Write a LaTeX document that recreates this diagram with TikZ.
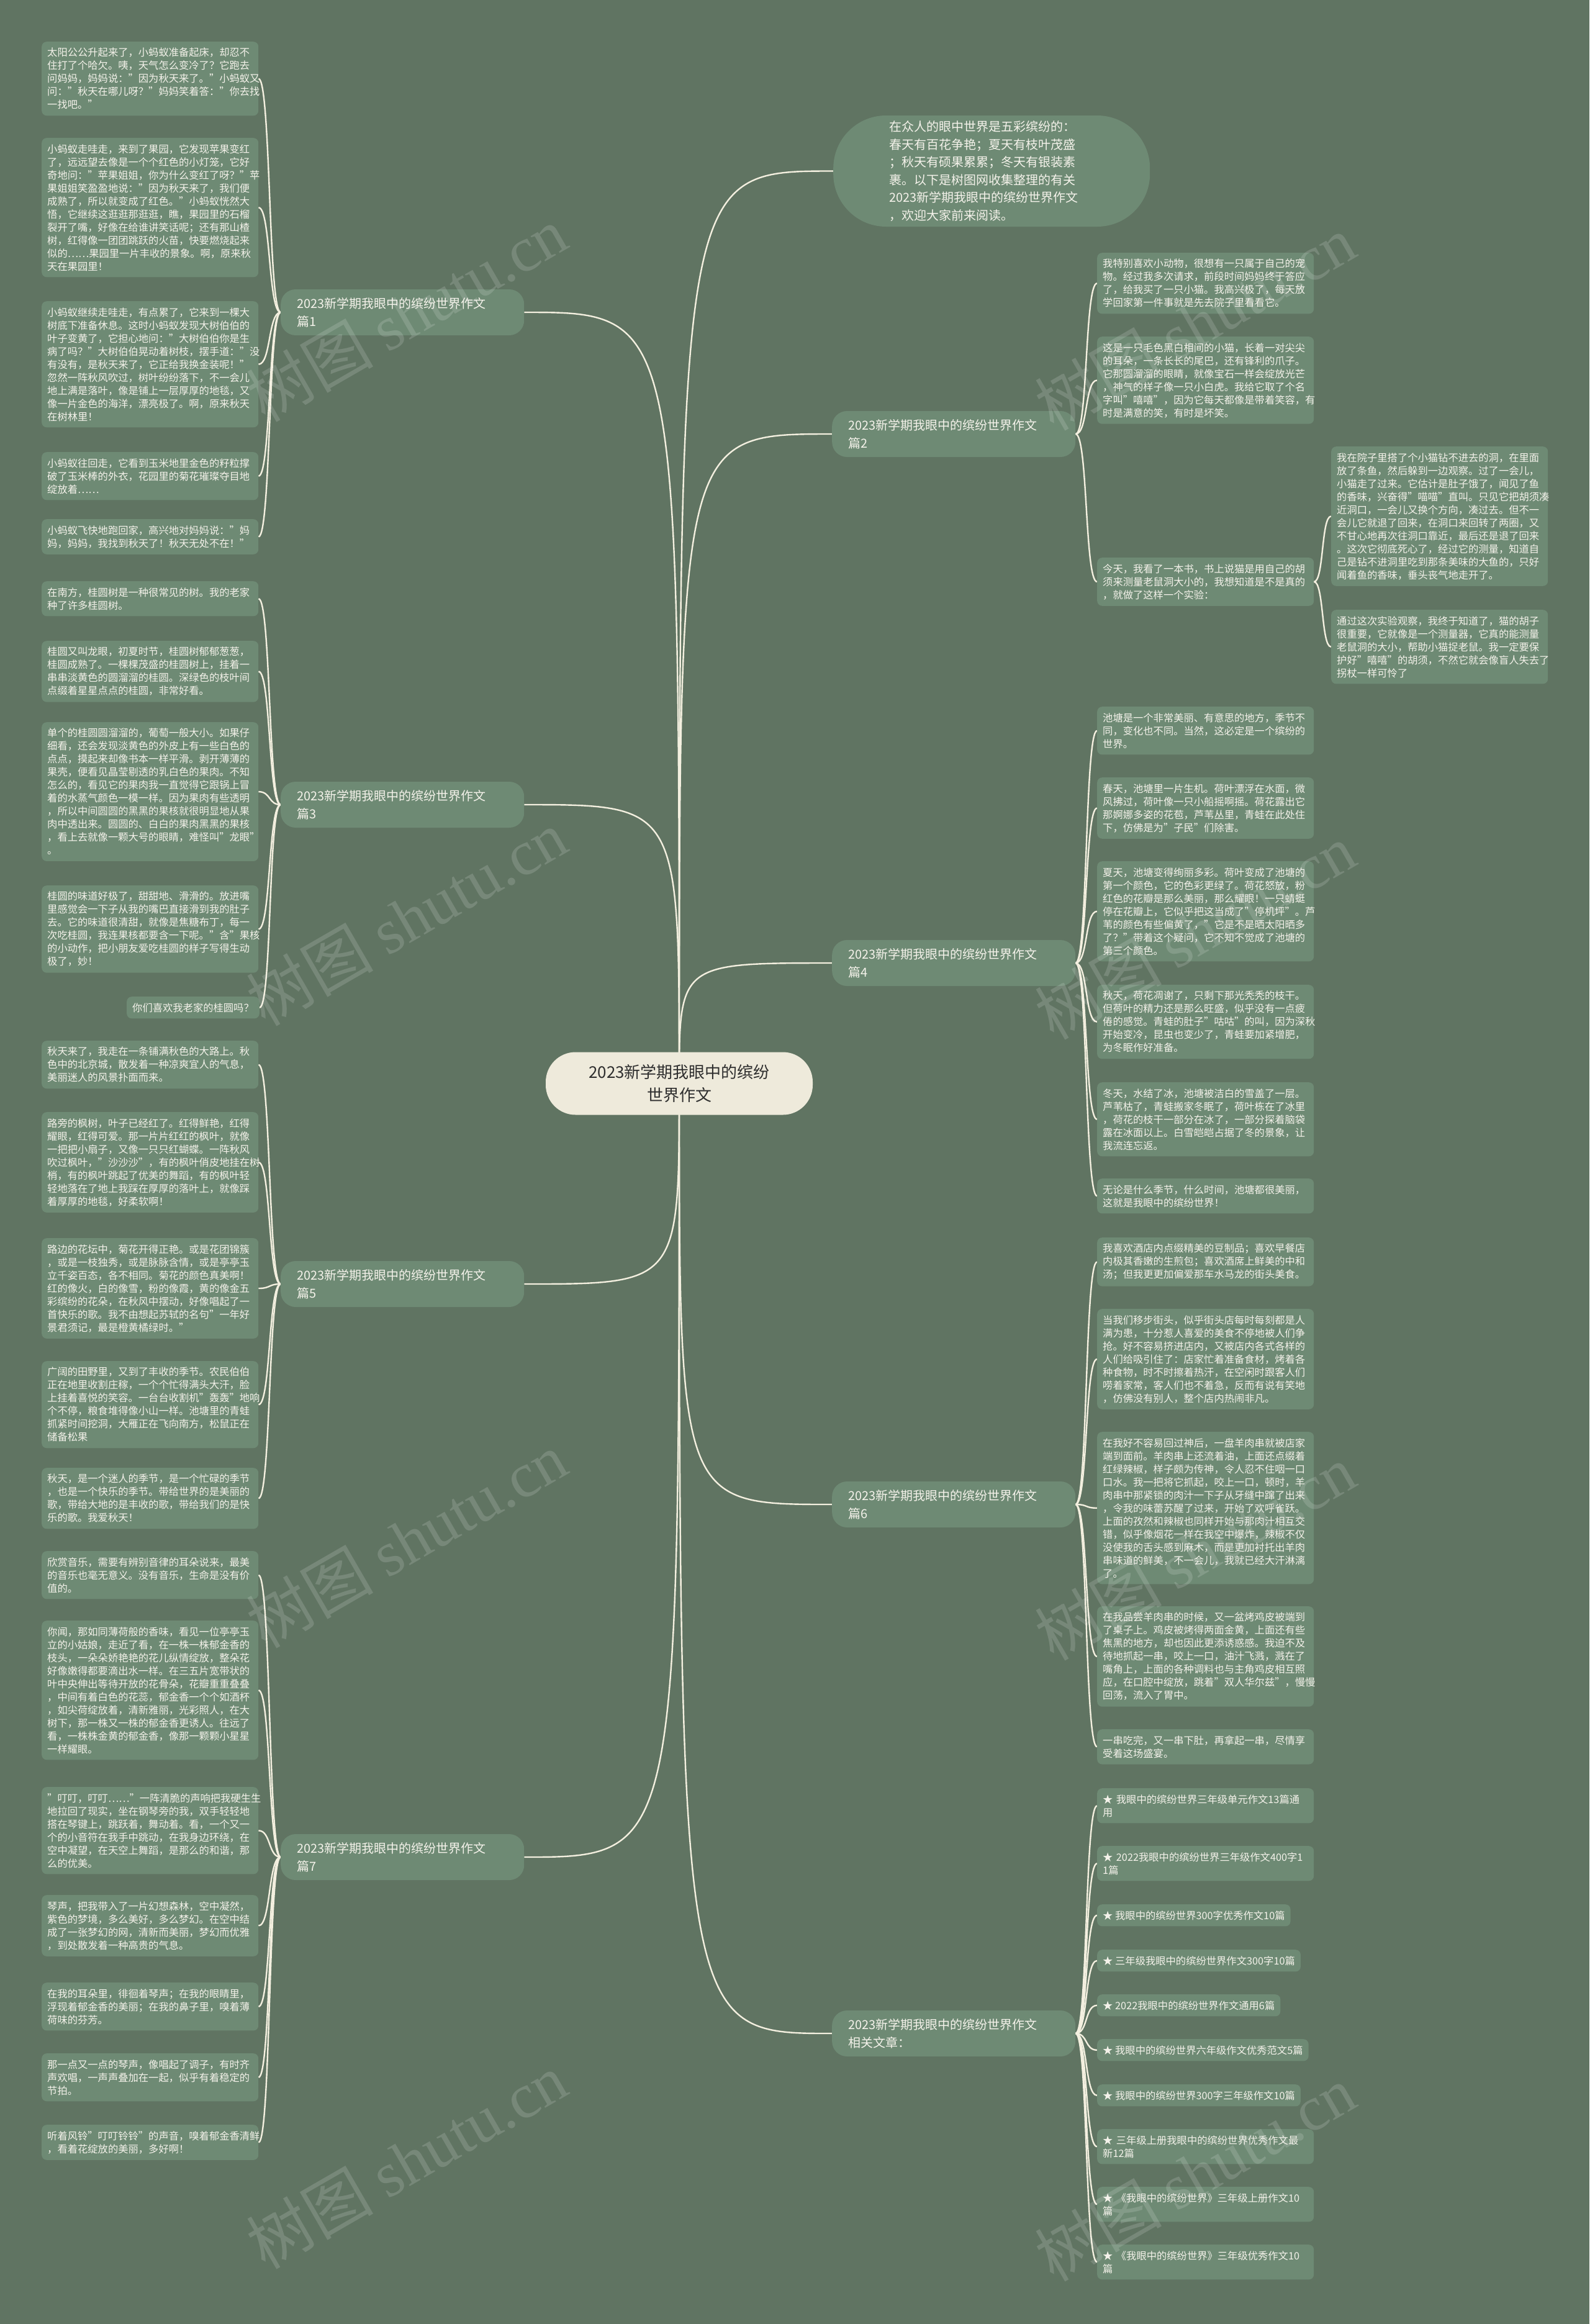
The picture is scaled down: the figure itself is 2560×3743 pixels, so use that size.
\documentclass[tikz,border=0pt]{standalone}
\usepackage{fontspec}
\setmainfont{Noto Sans CJK SC}
\newfontfamily\wmlatin{Liberation Serif}
\definecolor{bgc}{HTML}{607462}
\definecolor{nodefill}{HTML}{6E8A74}
\definecolor{linec}{HTML}{F3EFDF}
\definecolor{txt}{HTML}{F4F2EA}
\definecolor{rootfill}{HTML}{EEEADB}
\definecolor{roottxt}{HTML}{2E2E2E}
\pgfdeclarelayer{bglayer}
\pgfdeclarelayer{linelayer}
\pgfdeclarelayer{wmlayer}
\pgfsetlayers{bglayer,linelayer,main,wmlayer}
\begin{document}
\begin{tikzpicture}[x=1pt,y=-1pt,
  leaf/.style={fill=nodefill, text=txt, rounded corners=8pt, inner xsep=9pt, inner ysep=10pt, font=\fontsize{16.3}{21}\selectfont, align=left},
  wleaf/.style={leaf, text width=331pt},
  branchbox/.style={fill=nodefill, text=txt, rounded corners=24pt, inner xsep=26pt, inner ysep=8pt, text width=340pt, minimum height=74pt, align=left, font=\fontsize{20}{29}\selectfont},
  rootbox/.style={fill=rootfill, text=roottxt, rounded corners=48pt, minimum width=430pt, minimum height=101pt, inner sep=0pt, align=center, font=\fontsize{26}{37}\selectfont},
  introbox/.style={fill=nodefill, text=txt, rounded corners=85pt, text width=330pt, inner xsep=90pt, inner ysep=0pt, minimum height=179pt, align=left, font=\fontsize{20}{28.5}\selectfont},
  link/.style={draw=linec, line width=2.4pt},
  wmark/.style={rotate=30, text=white, text opacity=0.15, font=\fontsize{102}{102}\selectfont}
]
\useasboundingbox (0,0) rectangle (2560,3743);
\begin{pgfonlayer}{bglayer}
\fill[bgc] (0,0) rectangle (2560,3743);
\end{pgfonlayer}

% root and intro
\node[rootbox] (root) at (1094,1745) {2023新学期我眼中的缤纷\\世界作文};
\node[introbox, anchor=west] (intro) at (1342,275.5) {在众人的眼中世界是五彩缤纷的：\\春天有百花争艳；夏天有枝叶茂盛\\；秋天有硕果累累；冬天有银装素\\裹。以下是树图网收集整理的有关\\2023新学期我眼中的缤纷世界作文\\，欢迎大家前来阅读。};

% branches
\node[branchbox, anchor=west] (b1) at (452,503) {2023新学期我眼中的缤纷世界作文\\篇1};
\node[branchbox, anchor=west] (b3) at (452,1296) {2023新学期我眼中的缤纷世界作文\\篇3};
\node[branchbox, anchor=west] (b5) at (452,2068) {2023新学期我眼中的缤纷世界作文\\篇5};
\node[branchbox, anchor=west] (b7) at (452,2991) {2023新学期我眼中的缤纷世界作文\\篇7};
\node[branchbox, anchor=west] (b2) at (1340,699) {2023新学期我眼中的缤纷世界作文\\篇2};
\node[branchbox, anchor=west] (b4) at (1340,1551) {2023新学期我眼中的缤纷世界作文\\篇4};
\node[branchbox, anchor=west] (b6) at (1340,2423) {2023新学期我眼中的缤纷世界作文\\篇6};
\node[branchbox, anchor=west] (b8) at (1340,3275) {2023新学期我眼中的缤纷世界作文\\相关文章：};

% group 1
\node[wleaf, anchor=north west] (l1a) at (67,67) {太阳公公升起来了，小蚂蚁准备起床，却忍不\\住打了个哈欠。咦，天气怎么变冷了？它跑去\\问妈妈，妈妈说："因为秋天来了。"小蚂蚁又\\问："秋天在哪儿呀？"妈妈笑着答："你去找\\一找吧。"};
\node[wleaf, anchor=north west] (l1b) at (67,222) {小蚂蚁走哇走，来到了果园，它发现苹果变红\\了，远远望去像是一个个红色的小灯笼，它好\\奇地问："苹果姐姐，你为什么变红了呀？"苹\\果姐姐笑盈盈地说："因为秋天来了，我们便\\成熟了，所以就变成了红色。"小蚂蚁恍然大\\悟，它继续这逛逛那逛逛，瞧，果园里的石榴\\裂开了嘴，好像在给谁讲笑话呢；还有那山楂\\树，红得像一团团跳跃的火苗，快要燃烧起来\\似的……果园里一片丰收的景象。啊，原来秋\\天在果园里！};
\node[wleaf, anchor=north west] (l1c) at (67,485) {小蚂蚁继续走哇走，有点累了，它来到一棵大\\树底下准备休息。这时小蚂蚁发现大树伯伯的\\叶子变黄了，它担心地问："大树伯伯你是生\\病了吗？"大树伯伯晃动着树枝，摆手道："没\\有没有，是秋天来了，它正给我换金装呢！"\\忽然一阵秋风吹过，树叶纷纷落下，不一会儿\\地上满是落叶，像是铺上一层厚厚的地毯，又\\像一片金色的海洋，漂亮极了。啊，原来秋天\\在树林里！};
\node[wleaf, anchor=north west] (l1d) at (67,728) {小蚂蚁往回走，它看到玉米地里金色的籽粒撑\\破了玉米棒的外衣，花园里的菊花璀璨夺目地\\绽放着……};
\node[wleaf, anchor=north west] (l1e) at (67,836) {小蚂蚁飞快地跑回家，高兴地对妈妈说："妈\\妈，妈妈，我找到秋天了！秋天无处不在！"};

% group 3
\node[wleaf, anchor=north west] (l3a) at (67,936) {在南方，桂圆树是一种很常见的树。我的老家\\种了许多桂圆树。};
\node[wleaf, anchor=north west] (l3b) at (67,1032) {桂圆又叫龙眼，初夏时节，桂圆树郁郁葱葱，\\桂圆成熟了。一棵棵茂盛的桂圆树上，挂着一\\串串淡黄色的圆溜溜的桂圆。深绿色的枝叶间\\点缀着星星点点的桂圆，非常好看。};
\node[wleaf, anchor=north west] (l3c) at (67,1163) {单个的桂圆圆溜溜的，葡萄一般大小。如果仔\\细看，还会发现淡黄色的外皮上有一些白色的\\点点，摸起来却像书本一样平滑。剥开薄薄的\\果壳，便看见晶莹剔透的乳白色的果肉。不知\\怎么的，看见它的果肉我一直觉得它跟锅上冒\\着的水蒸气颜色一模一样。因为果肉有些透明\\，所以中间圆圆的黑黑的果核就很明显地从果\\肉中透出来。圆圆的、白白的果肉黑黑的果核\\，看上去就像一颗大号的眼睛，难怪叫"龙眼"\\。};
\node[wleaf, anchor=north west] (l3d) at (67,1426) {桂圆的味道好极了，甜甜地、滑滑的。放进嘴\\里感觉会一下子从我的嘴巴直接滑到我的肚子\\去。它的味道很清甜，就像是焦糖布丁，每一\\次吃桂圆，我连果核都要含一下呢。"含"果核\\的小动作，把小朋友爱吃桂圆的样子写得生动\\极了，妙！};
\node[leaf, anchor=north east] (l3e) at (418,1605) {你们喜欢我老家的桂圆吗？};

% group 5
\node[wleaf, anchor=north west] (l5a) at (67,1676) {秋天来了，我走在一条铺满秋色的大路上。秋\\色中的北京城，散发着一种凉爽宜人的气息，\\美丽迷人的风景扑面而来。};
\node[wleaf, anchor=north west] (l5b) at (67,1791) {路旁的枫树，叶子已经红了。红得鲜艳，红得\\耀眼，红得可爱。那一片片红红的枫叶，就像\\一把把小扇子，又像一只只红蝴蝶。一阵秋风\\吹过枫叶，"沙沙沙"，有的枫叶俏皮地挂在树\\梢，有的枫叶跳起了优美的舞蹈，有的枫叶轻\\轻地落在了地上我踩在厚厚的落叶上，就像踩\\着厚厚的地毯，好柔软啊！};
\node[wleaf, anchor=north west] (l5c) at (67,1994) {路边的花坛中，菊花开得正艳。或是花团锦簇\\，或是一枝独秀，或是脉脉含情，或是亭亭玉\\立千姿百态，各不相同。菊花的颜色真美啊！\\红的像火，白的像雪，粉的像霞，黄的像金五\\彩缤纷的花朵，在秋风中摆动，好像唱起了一\\首快乐的歌。我不由想起苏轼的名句"一年好\\景君须记，最是橙黄橘绿时。"};
\node[wleaf, anchor=north west] (l5d) at (67,2192) {广阔的田野里，又到了丰收的季节。农民伯伯\\正在地里收割庄稼，一个个忙得满头大汗，脸\\上挂着喜悦的笑容。一台台收割机"轰轰"地响\\个不停，粮食堆得像小山一样。池塘里的青蛙\\抓紧时间挖洞，大雁正在飞向南方，松鼠正在\\储备松果};
\node[wleaf, anchor=north west] (l5e) at (67,2364) {秋天，是一个迷人的季节，是一个忙碌的季节\\，也是一个快乐的季节。带给世界的是美丽的\\歌，带给大地的是丰收的歌，带给我们的是快\\乐的歌。我爱秋天！};

% group 7
\node[wleaf, anchor=north west] (l7a) at (67,2498) {欣赏音乐，需要有辨别音律的耳朵说来，最美\\的音乐也毫无意义。没有音乐，生命是没有价\\值的。};
\node[wleaf, anchor=north west] (l7b) at (67,2610) {你闻，那如同薄荷般的香味，看见一位亭亭玉\\立的小姑娘，走近了看，在一株一株郁金香的\\枝头，一朵朵娇艳艳的花儿纵情绽放，整朵花\\好像嫩得都要滴出水一样。在三五片宽带状的\\叶中央伸出等待开放的花骨朵，花瓣重重叠叠\\，中间有着白色的花蕊，郁金香一个个如酒杯\\，如尖荷绽放着，清新雅丽，光彩照人，在大\\树下，那一株又一株的郁金香更诱人。往远了\\看，一株株金黄的郁金香，像那一颗颗小星星\\一样耀眼。};
\node[wleaf, anchor=north west] (l7c) at (67,2878) {"叮叮，叮叮……"一阵清脆的声响把我硬生生\\地拉回了现实，坐在钢琴旁的我，双手轻轻地\\搭在琴键上，跳跃着，舞动着。看，一个又一\\个的小音符在我手中跳动，在我身边环绕，在\\空中凝望，在天空上舞蹈，是那么的和谐，那\\么的优美。};
\node[wleaf, anchor=north west] (l7d) at (67,3052) {琴声，把我带入了一片幻想森林，空中凝然，\\紫色的梦境，多么美好，多么梦幻。在空中结\\成了一张梦幻的网，清新而美丽，梦幻而优雅\\，到处散发着一种高贵的气息。};
\node[wleaf, anchor=north west] (l7e) at (67,3193) {在我的耳朵里，徘徊着琴声；在我的眼睛里，\\浮现着郁金香的美丽；在我的鼻子里，嗅着薄\\荷味的芬芳。};
\node[wleaf, anchor=north west] (l7f) at (67,3307) {那一点又一点的琴声，像唱起了调子，有时齐\\声欢唱，一声声叠加在一起，似乎有着稳定的\\节拍。};
\node[wleaf, anchor=north west] (l7g) at (67,3422) {听着风铃"叮叮铃铃"的声音，嗅着郁金香清鲜\\，看着花绽放的美丽，多好啊！};

% group 2
\node[wleaf, anchor=north west] (r1) at (1767,407) {我特别喜欢小动物，很想有一只属于自己的宠\\物。经过我多次请求，前段时间妈妈终于答应\\了，给我买了一只小猫。我高兴极了，每天放\\学回家第一件事就是先去院子里看看它。};
\node[wleaf, anchor=north west] (r2) at (1767,542) {这是一只毛色黑白相间的小猫，长着一对尖尖\\的耳朵，一条长长的尾巴，还有锋利的爪子。\\它那圆溜溜的眼睛，就像宝石一样会绽放光芒\\，神气的样子像一只小白虎。我给它取了个名\\字叫"嘻嘻"，因为它每天都像是带着笑容，有\\时是满意的笑，有时是坏笑。};
\node[wleaf, anchor=north west] (r3) at (1767,898) {今天，我看了一本书，书上说猫是用自己的胡\\须来测量老鼠洞大小的，我想知道是不是真的\\，就做了这样一个实验：};
\node[wleaf, anchor=north west] (f1) at (2144,719) {我在院子里搭了个小猫钻不进去的洞，在里面\\放了条鱼，然后躲到一边观察。过了一会儿，\\小猫走了过来。它估计是肚子饿了，闻见了鱼\\的香味，兴奋得"喵喵"直叫。只见它把胡须凑\\近洞口，一会儿又换个方向，凑过去。但不一\\会儿它就退了回来，在洞口来回转了两圈，又\\不甘心地再次往洞口靠近，最后还是退了回来\\。这次它彻底死心了，经过它的测量，知道自\\己是钻不进洞里吃到那条美味的大鱼的，只好\\闻着鱼的香味，垂头丧气地走开了。};
\node[wleaf, anchor=north west] (f2) at (2144,982) {通过这次实验观察，我终于知道了，猫的胡子\\很重要，它就像是一个测量器，它真的能测量\\老鼠洞的大小，帮助小猫捉老鼠。我一定要保\\护好"嘻嘻"的胡须，不然它就会像盲人失去了\\拐杖一样可怜了};

% group 4
\node[wleaf, anchor=north west] (p1) at (1767,1138) {池塘是一个非常美丽、有意思的地方，季节不\\同，变化也不同。当然，这必定是一个缤纷的\\世界。};
\node[wleaf, anchor=north west] (p2) at (1767,1252) {春天，池塘里一片生机。荷叶漂浮在水面，微\\风拂过，荷叶像一只小船摇啊摇。荷花露出它\\那婀娜多姿的花苞，芦苇丛里，青蛙在此处住\\下，仿佛是为"子民"们除害。};
\node[wleaf, anchor=north west] (p3) at (1767,1387) {夏天，池塘变得绚丽多彩。荷叶变成了池塘的\\第一个颜色，它的色彩更绿了。荷花怒放，粉\\红色的花瓣是那么美丽，那么耀眼！一只蜻蜓\\停在花瓣上，它似乎把这当成了"停机坪"。芦\\苇的颜色有些偏黄了，"它是不是晒太阳晒多\\了？"带着这个疑问，它不知不觉成了池塘的\\第三个颜色。};
\node[wleaf, anchor=north west] (p4) at (1767,1586) {秋天，荷花凋谢了，只剩下那光秃秃的枝干。\\但荷叶的精力还是那么旺盛，似乎没有一点疲\\倦的感觉。青蛙的肚子"咕咕"的叫，因为深秋\\开始变冷，昆虫也变少了，青蛙要加紧增肥，\\为冬眠作好准备。};
\node[wleaf, anchor=north west] (p5) at (1767,1743) {冬天，水结了冰，池塘被洁白的雪盖了一层。\\芦苇枯了，青蛙搬家冬眠了，荷叶栋在了冰里\\，荷花的枝干一部分在冰了，一部分探着脑袋\\露在冰面以上。白雪皑皑占据了冬的景象，让\\我流连忘返。};
\node[wleaf, anchor=north west] (p6) at (1767,1898) {无论是什么季节，什么时间，池塘都很美丽，\\这就是我眼中的缤纷世界！};

% group 6
\node[wleaf, anchor=north west] (q1) at (1767,1993) {我喜欢酒店内点缀精美的豆制品；喜欢早餐店\\内极其香嫩的生煎包；喜欢酒席上鲜美的中和\\汤；但我更更加偏爱那车水马龙的街头美食。};
\node[wleaf, anchor=north west] (q2) at (1767,2108) {当我们移步街头，似乎街头店每时每刻都是人\\满为患，十分惹人喜爱的美食不停地被人们争\\抢。好不容易挤进店内，又被店内各式各样的\\人们给吸引住了：店家忙着准备食材，烤着各\\种食物，时不时擦着热汗，在空闲时跟客人们\\唠着家常，客人们也不着急，反而有说有笑地\\，仿佛没有别人，整个店内热闹非凡。};
\node[wleaf, anchor=north west] (q3) at (1767,2306) {在我好不容易回过神后，一盘羊肉串就被店家\\端到面前。羊肉串上还流着油，上面还点缀着\\红绿辣椒，样子颇为传神，令人忍不住咽一口\\口水。我一把将它抓起，咬上一口，顿时，羊\\肉串中那紧锁的肉汁一下子从牙缝中蹿了出来\\，令我的味蕾苏醒了过来，开始了欢呼雀跃。\\上面的孜然和辣椒也同样开始与那肉汁相互交\\错，似乎像烟花一样在我空中爆炸，辣椒不仅\\没使我的舌头感到麻木，而是更加衬托出羊肉\\串味道的鲜美，不一会儿，我就已经大汗淋漓\\了。};
\node[wleaf, anchor=north west] (q4) at (1767,2587) {在我品尝羊肉串的时候，又一盆烤鸡皮被端到\\了桌子上。鸡皮被烤得两面金黄，上面还有些\\焦黑的地方，却也因此更添诱惑感。我迫不及\\待地抓起一串，咬上一口，油汁飞溅，溅在了\\嘴角上，上面的各种调料也与主角鸡皮相互照\\应，在口腔中绽放，跳着"双人华尔兹"，慢慢\\回荡，流入了胃中。};
\node[wleaf, anchor=north west] (q5) at (1767,2785) {一串吃完，又一串下肚，再拿起一串，尽情享\\受着这场盛宴。};

% group 8
\node[wleaf, anchor=north west] (s1) at (1767,2880) {★ 我眼中的缤纷世界三年级单元作文13篇通\\用};
\node[wleaf, anchor=north west] (s2) at (1767,2973) {★ 2022我眼中的缤纷世界三年级作文400字1\\1篇};
\node[leaf, anchor=north west] (s3) at (1767,3067) {★ 我眼中的缤纷世界300字优秀作文10篇};
\node[leaf, anchor=north west] (s4) at (1767,3140) {★ 三年级我眼中的缤纷世界作文300字10篇};
\node[leaf, anchor=north west] (s5) at (1767,3212) {★ 2022我眼中的缤纷世界作文通用6篇};
\node[leaf, anchor=north west] (s6) at (1767,3284) {★ 我眼中的缤纷世界六年级作文优秀范文5篇};
\node[leaf, anchor=north west] (s7) at (1767,3357) {★ 我眼中的缤纷世界300字三年级作文10篇};
\node[wleaf, anchor=north west] (s8) at (1767,3429) {★ 三年级上册我眼中的缤纷世界优秀作文最\\新12篇};
\node[wleaf, anchor=north west] (s9) at (1767,3522) {★ 《我眼中的缤纷世界》三年级上册作文10\\篇};
\node[wleaf, anchor=north west] (s10) at (1767,3615) {★ 《我眼中的缤纷世界》三年级优秀作文10\\篇};

% connectors
\begin{pgfonlayer}{linelayer}
\foreach \b in {b1,b3,b5,b7}
  \draw[link] (root.center) .. controls (root.center |- \b.east) .. (\b.east);
\foreach \b in {b2,b4,b6,b8,intro}
  \draw[link] (root.center) .. controls (root.center |- \b.west) .. (\b.west);
\foreach \l in {l1a,l1b,l1c,l1d,l1e}
  \draw[link] (b1.west) .. controls +(-20,0) and +(20,0) .. (\l.east);
\foreach \l in {l3a,l3b,l3c,l3d,l3e}
  \draw[link] (b3.west) .. controls +(-20,0) and +(20,0) .. (\l.east);
\foreach \l in {l5a,l5b,l5c,l5d,l5e}
  \draw[link] (b5.west) .. controls +(-20,0) and +(20,0) .. (\l.east);
\foreach \l in {l7a,l7b,l7c,l7d,l7e,l7f,l7g}
  \draw[link] (b7.west) .. controls +(-20,0) and +(20,0) .. (\l.east);
\foreach \l in {r1,r2,r3}
  \draw[link] (b2.east) .. controls +(20,0) and +(-20,0) .. (\l.west);
\foreach \l in {f1,f2}
  \draw[link] (r3.east) .. controls +(16,0) and +(-16,0) .. (\l.west);
\foreach \l in {p1,p2,p3,p4,p5,p6}
  \draw[link] (b4.east) .. controls +(20,0) and +(-20,0) .. (\l.west);
\foreach \l in {q1,q2,q3,q4,q5}
  \draw[link] (b6.east) .. controls +(20,0) and +(-20,0) .. (\l.west);
\foreach \l in {s1,s2,s3,s4,s5,s6,s7,s8,s9,s10}
  \draw[link] (b8.east) .. controls +(20,0) and +(-20,0) .. (\l.west);
\end{pgfonlayer}

% watermark
\begin{pgfonlayer}{wmlayer}
\foreach \p [count=\i] in {(655,506),(1925,520),(655,1478),(1925,1500),(655,2480),(1925,2500),(655,3480),(1925,3500)}
  \node[wmark] (wm\i) at \p {树图 {\wmlatin shutu.cn}};
\end{pgfonlayer}
\end{tikzpicture}
\end{document}
